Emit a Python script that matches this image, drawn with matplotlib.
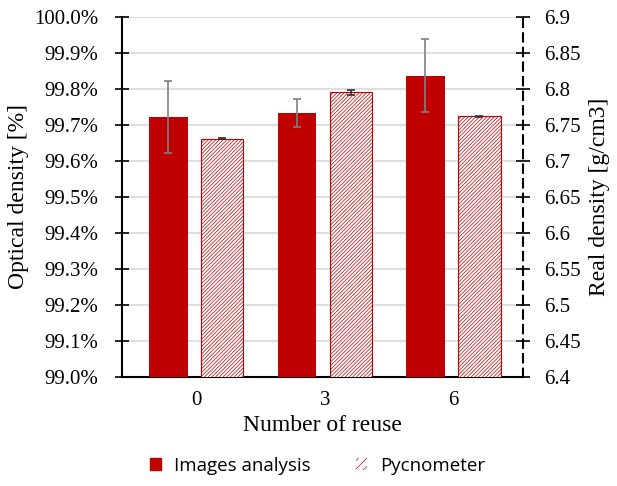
import numpy as np
import matplotlib.pyplot as plt
from matplotlib.patches import Patch
from matplotlib.ticker import FuncFormatter

plt.rcParams['font.family'] = 'Liberation Serif'
plt.rcParams['hatch.linewidth'] = 0.5

reuse = ['0', '3', '6']
optical = [99.723, 99.734, 99.837]
optical_err = [0.10, 0.039, 0.102]
real = [6.731, 6.795, 6.762]
real_err = [0.0005, 0.004, 0.0005]
right_ticks = ['6.4', '6.45', '6.5', '6.55', '6.6', '6.65', '6.7', '6.75', '6.8', '6.85', '6.9']

red = '#C00000'

fig = plt.figure(figsize=(6.17, 4.86), dpi=100)
ax = fig.add_axes([0.1977, 0.2243, 0.650, 0.741])
ax2 = ax.twinx()

x = np.arange(len(reuse))

ax.bar(x - 0.22, optical, 0.30, color=red, zorder=3)
ax.errorbar(x - 0.22, optical, yerr=optical_err, fmt='none', ecolor='#808080',
            elinewidth=1.2, capsize=3, capthick=1.2, zorder=4)

ax2.bar(x + 0.20, real, 0.33, color='white', edgecolor=red, hatch='/////////',
        linewidth=0.8, zorder=3)
ax2.errorbar(x + 0.20, real, yerr=real_err, fmt='none', ecolor='#333333',
             elinewidth=1.2, capsize=3, capthick=1.2, zorder=4)

ax.set_ylim(99.0, 100.0)
ax.set_yticks(np.arange(99.0, 100.01, 0.1))
ax.yaxis.set_major_formatter(FuncFormatter(lambda v, p: f'{v:.1f}%'))
ax2.set_ylim(6.4, 6.9)
ax2.set_yticks(np.linspace(6.4, 6.9, len(right_ticks)))
ax2.set_yticklabels(right_ticks)
ax.set_xlim(-0.58, 2.54)
ax.set_xticks(x)
ax.set_xticklabels(reuse)

ax.grid(axis='y', color='#d9d9d9', linewidth=1.2, zorder=0)
ax.set_axisbelow(True)

for s in ['top', 'right']:
    ax.spines[s].set_visible(False)
for s in ['top', 'left', 'bottom']:
    ax2.spines[s].set_visible(False)
ax2.spines['right'].set_linestyle((0, (4, 3)))
ax2.spines['right'].set_linewidth(1.5)
ax.spines['left'].set_linewidth(1.5)
ax.spines['bottom'].set_linewidth(1.5)

ax.tick_params(axis='y', direction='inout', length=10, width=1.2, labelsize=15, pad=12)
ax.tick_params(axis='x', length=0, labelsize=15, pad=10)
ax2.tick_params(axis='y', direction='inout', length=10, width=1.2, labelsize=15, pad=10)

ax.set_ylabel('Optical density [%]', fontsize=17, labelpad=4)
ax2.set_ylabel('Real density [g/cm3]', fontsize=17, labelpad=6)
ax.set_xlabel('Number of reuse', fontsize=17, labelpad=4)

handles = [Patch(facecolor=red, edgecolor=red),
           Patch(facecolor='white', edgecolor=red, hatch='////', linewidth=0)]
fig.legend(handles, ['Images analysis', 'Pycnometer'], loc='lower center',
           bbox_to_anchor=(0.515, -0.012), ncol=2, frameon=False,
           handlelength=0.6, handleheight=0.6, handletextpad=0.7, columnspacing=2.4,
           prop={'family': 'Open Sans', 'size': 13.5})

fig.savefig('out.png', dpi=100)
